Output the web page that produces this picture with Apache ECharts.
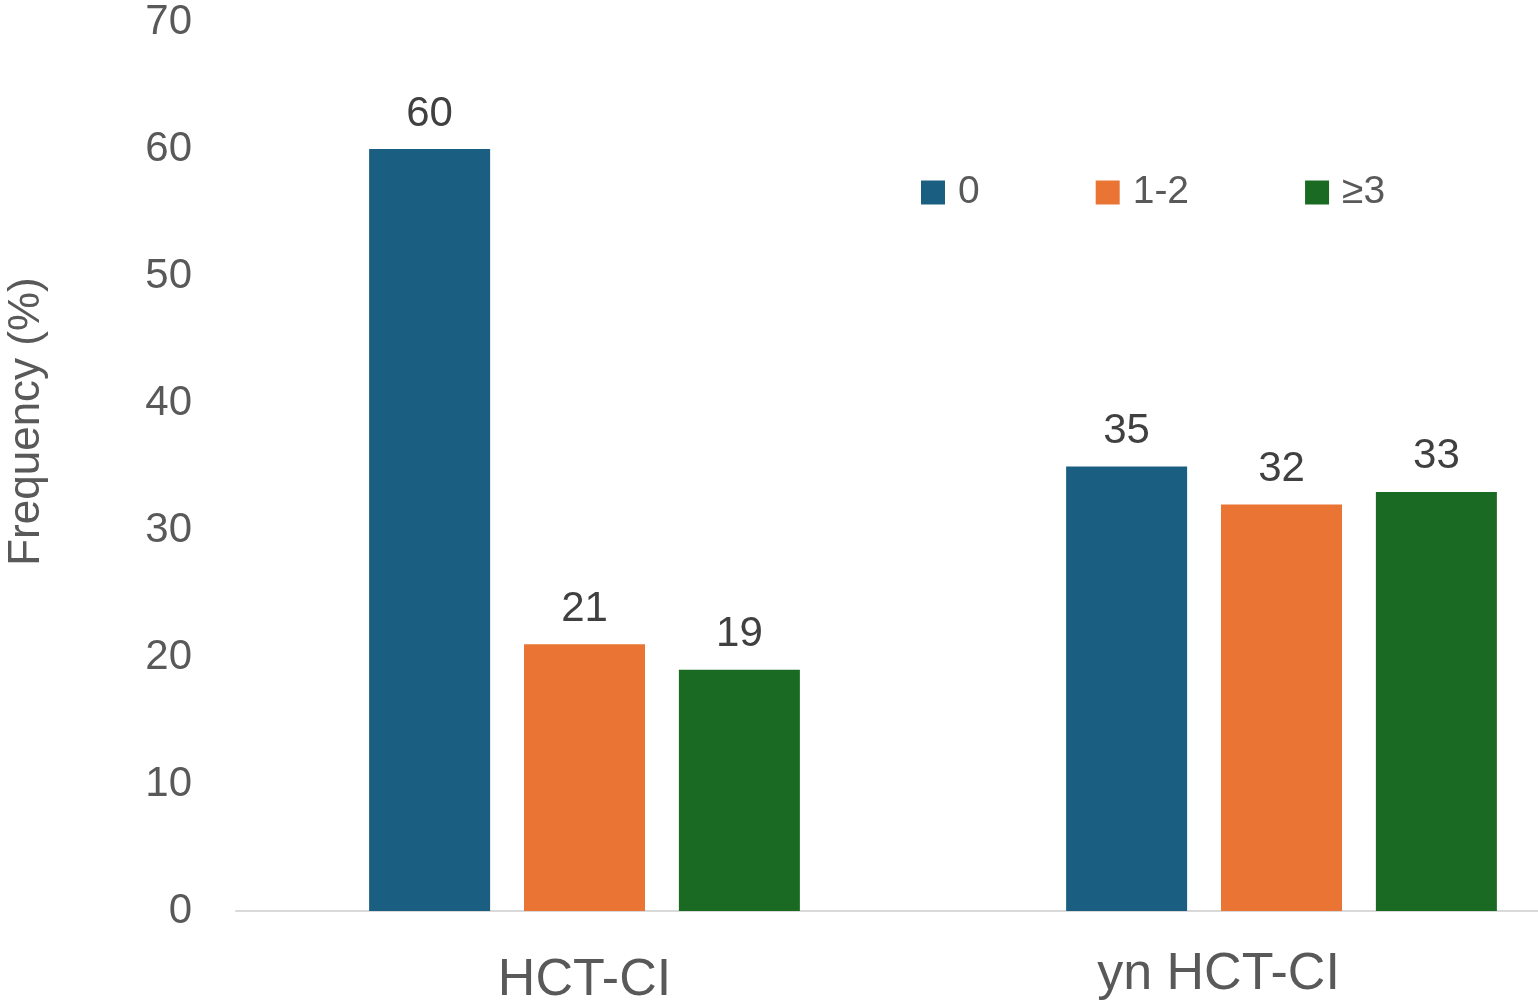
<!DOCTYPE html>
<html>
<head>
<meta charset="utf-8">
<script src="https://cdn.jsdelivr.net/npm/echarts@6/dist/echarts.min.js"></script>
<style>
  html, body { margin: 0; padding: 0; background: #fff; }
  #chart { width: 1538px; height: 1005px; }
</style>
</head>
<body>
<div id="chart"></div>
<script>
// data
const categories = ["HCT-CI", "yn HCT-CI"];
const seriesNames = ["0", "1-2", "≥3"];
const values0 = [60, 35];
const values12 = [21, 32];
const values3 = [19, 33];
const yTicks = { min: 0, max: 70, interval: 10 };

const colors = ["#1a5f81", "#ea7433", "#1b6a23"];
const font = "Liberation Sans, Arial, sans-serif";

const chart = echarts.init(document.getElementById("chart"));

function barSeries(name, data, color) {
  return {
    name: name,
    type: "bar",
    data: data,
    barWidth: 121,
    barGap: "28%",
    itemStyle: { color: color },
    label: {
      show: true,
      position: "top",
      distance: 14,
      color: "#404040",
      fontSize: 42,
      fontFamily: font,
    },
  };
}

chart.setOption({
  animation: false,
  backgroundColor: "#fff",
  color: colors,
  // the plot runs past the right edge of the picture, like the reference
  grid: {
    left: 236,
    width: 1394,
    top: 22,
    bottom: 94,
    outerBoundsMode: "none",
    containLabel: false,
  },
  legend: {
    data: seriesNames,
    left: 916,
    top: 168,
    icon: "rect",
    itemWidth: 24,
    itemHeight: 24,
    itemGap: 116,
    textStyle: {
      fontSize: 39,
      color: "#595959",
      fontFamily: font,
      padding: [0, 0, 0, 8],
    },
  },
  xAxis: {
    type: "category",
    data: [
      { value: categories[0], textStyle: { padding: [6, 0, 0, 0] } },
      { value: categories[1], textStyle: { padding: [0, 126, 0, 0] } },
    ],
    axisLine: { show: true, lineStyle: { color: "#d9d9d9", width: 2 } },
    axisTick: { show: false },
    axisLabel: {
      margin: 38,
      fontSize: 52,
      color: "#595959",
      fontFamily: font,
    },
  },
  yAxis: {
    type: "value",
    min: yTicks.min,
    max: yTicks.max,
    interval: yTicks.interval,
    name: "Frequency (%)",
    nameLocation: "middle",
    nameGap: 187,
    nameTextStyle: {
      fontSize: 44,
      color: "#595959",
      fontFamily: font,
      padding: [0, 0, 0, 90],
    },
    axisLine: { show: false },
    axisTick: { show: false },
    splitLine: { show: false },
    axisLabel: {
      margin: 44,
      fontSize: 42,
      color: "#595959",
      fontFamily: font,
    },
  },
  series: [
    barSeries(seriesNames[0], values0, colors[0]),
    barSeries(seriesNames[1], values12, colors[1]),
    barSeries(seriesNames[2], values3, colors[2]),
  ],
});

window.addEventListener("resize", () => chart.resize());
</script>
</body>
</html>
